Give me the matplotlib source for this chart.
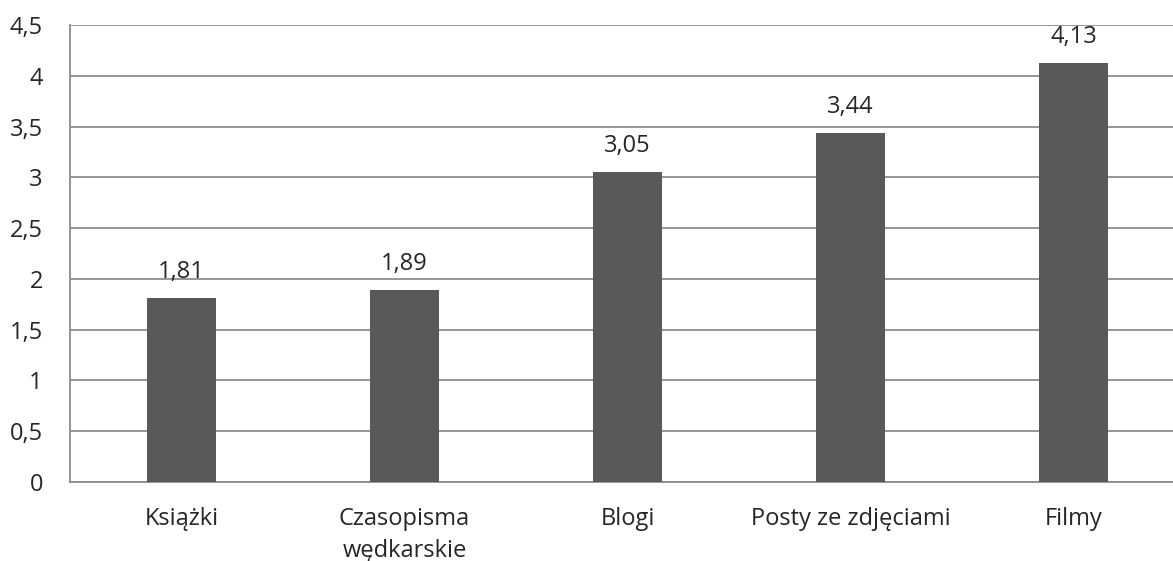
import matplotlib
matplotlib.use("Agg")
import matplotlib.pyplot as plt

categories = ["Książki", "Czasopisma\nwędkarskie", "Blogi", "Posty ze zdjęciami", "Filmy"]
values = [1.81, 1.89, 3.05, 3.44, 4.13]
yticks = [0, 0.5, 1, 1.5, 2, 2.5, 3, 3.5, 4, 4.5]

plt.rcParams["font.family"] = ["Open Sans", "DejaVu Sans"]
FS = 17

fig = plt.figure(figsize=(11.73, 5.61), dpi=100)
ax = fig.add_axes([70 / 1173, 79 / 561, 1 - 70 / 1173, (482 - 25) / 561])

x = list(range(len(categories)))
ax.bar(x, values, width=0.31, color="#595959", zorder=3)

for xi, v in zip(x, values):
    ax.annotate(f"{v:.2f}".replace(".", ","), (xi, v), xytext=(0, 14.4),
                textcoords="offset points", ha="center", va="baseline",
                fontsize=FS, color="#262626")

ax.set_xlim(-0.5, 4.446)
ax.set_ylim(0, 4.5)
ax.set_yticks(yticks)
ax.set_yticklabels([f"{t:g}".replace(".", ",") for t in yticks])
ax.set_xticks(x)
ax.set_xticklabels(categories, linespacing=1.45)
ax.tick_params(axis="both", length=0, labelsize=FS, labelcolor="#262626")
ax.tick_params(axis="x", pad=18)
ax.tick_params(axis="y", pad=19.5)

ax.yaxis.grid(True, color="#8c8c8c", linewidth=1.3, zorder=0)
for s in ["top", "right"]:
    ax.spines[s].set_visible(False)
for s in ["left", "bottom"]:
    ax.spines[s].set_color("#8c8c8c")
    ax.spines[s].set_linewidth(1.3)

fig.savefig("out.png", dpi=100)
